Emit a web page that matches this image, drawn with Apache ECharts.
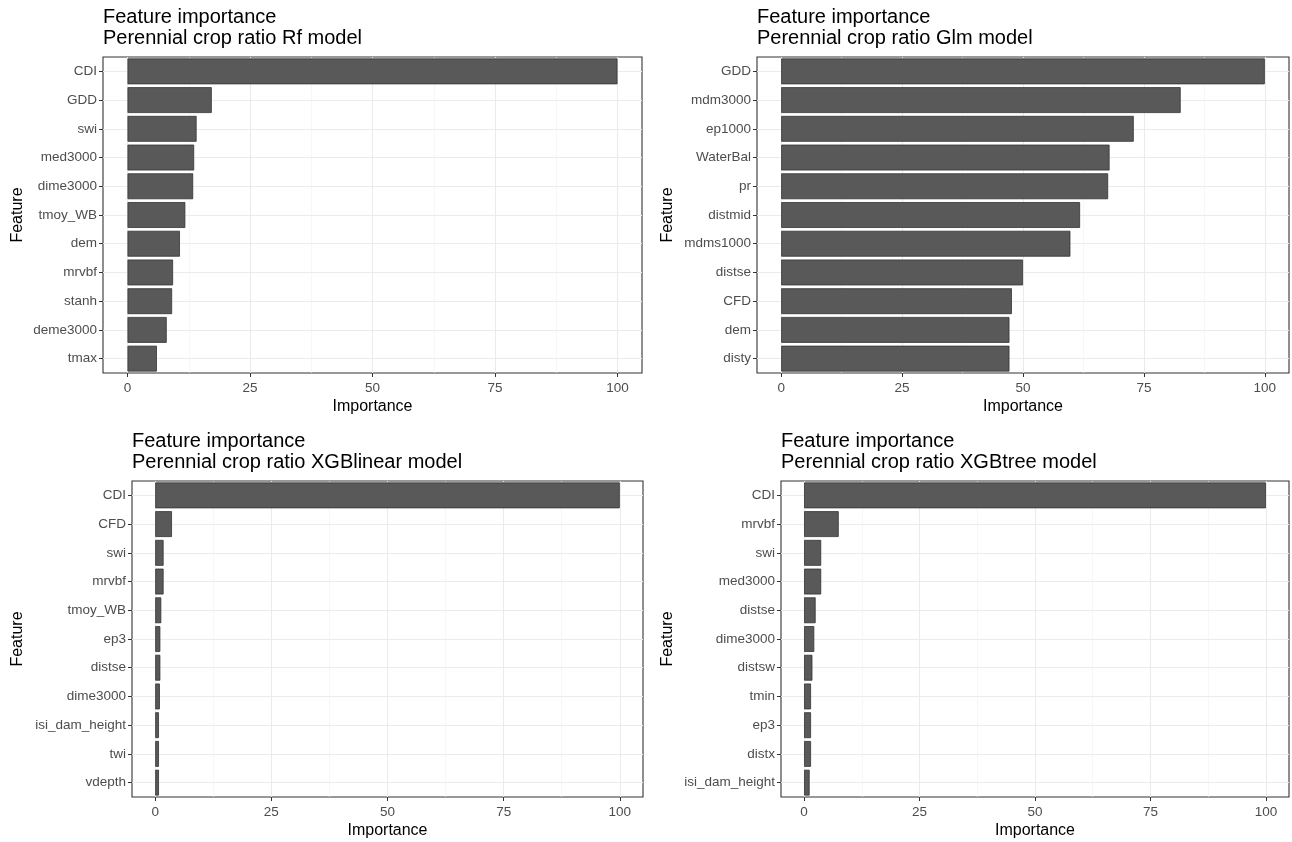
<!DOCTYPE html>
<html>
<head>
<meta charset="utf-8">
<script src="https://cdn.jsdelivr.net/npm/echarts@6/dist/echarts.min.js"></script>
<style>
html,body{margin:0;padding:0;background:#fff;}
#chart{width:1292px;height:842px;}
</style>
</head>
<body>
<div id="chart"></div>
<script>
// ---- data ----
const rfFeatures = ['CDI','GDD','swi','med3000','dime3000','tmoy_WB','dem','mrvbf','stanh','deme3000','tmax'];
const rfValues = [100,17.2,14.1,13.6,13.4,11.8,10.7,9.3,9.1,8.0,6.0];

const glmFeatures = ['GDD','mdm3000','ep1000','WaterBal','pr','distmid','mdms1000','distse','CFD','dem','disty'];
const glmValues = [100,82.6,72.9,67.9,67.6,61.8,59.8,50.0,47.7,47.2,47.2];

const xgblFeatures = ['CDI','CFD','swi','mrvbf','tmoy_WB','ep3','distse','dime3000','isi_dam_height','twi','vdepth'];
const xgblValues = [100,3.6,1.8,1.8,1.3,1.1,1.1,1.0,0.8,0.8,0.8];

const xgbtFeatures = ['CDI','mrvbf','swi','med3000','distse','dime3000','distsw','tmin','ep3','distx','isi_dam_height'];
const xgbtValues = [100,7.5,3.7,3.7,2.5,2.2,1.8,1.5,1.5,1.5,1.2];

const panelTitles = [
  'Feature importance\nPerennial crop ratio Rf model',
  'Feature importance\nPerennial crop ratio Glm model',
  'Feature importance\nPerennial crop ratio XGBlinear model',
  'Feature importance\nPerennial crop ratio XGBtree model'
];
const xTicks = [0,25,50,75,100];
const xMinorTicks = [12.5,37.5,62.5,87.5];
const xName = 'Importance';
const yName = 'Feature';

// ---- layout / style ----
const FONT = '"Liberation Sans", Arial, sans-serif';
const panels = [
  {feat: rfFeatures,  val: rfValues,  grid: {left:103, top:57,  width:539, height:316}, yGap:77,  titleTop:7},
  {feat: glmFeatures, val: glmValues, grid: {left:757, top:57,  width:532, height:316}, yGap:81,  titleTop:7},
  {feat: xgblFeatures,val: xgblValues,grid: {left:132, top:481, width:511, height:316}, yGap:106, titleTop:431},
  {feat: xgbtFeatures,val: xgbtValues,grid: {left:781, top:481, width:508, height:316}, yGap:105, titleTop:431}
];

const option = {
  backgroundColor: '#ffffff',
  animation: false,
  textStyle: {fontFamily: FONT},
  title: [], grid: [], xAxis: [], yAxis: [], series: []
};

panels.forEach((p, i) => {
  option.title.push({
    text: panelTitles[i],
    left: p.grid.left, top: p.titleTop, padding: 0,
    textStyle: {fontFamily: FONT, fontSize: 20, fontWeight: 'normal', color: '#000', lineHeight: 21}
  });
  option.grid.push(Object.assign({
    show: true, backgroundColor: '#fff', borderColor: '#333333', borderWidth: 1.1,
    containLabel: false
  }, p.grid));
  // main x axis (labels, ticks, major grid)
  option.xAxis.push({
    type: 'value', gridIndex: i, min: -5, max: 105, position: 'bottom',
    name: xName, nameLocation: 'middle', nameGap: 26,
    nameTextStyle: {fontFamily: FONT, fontSize: 16, color: '#000'},
    axisLine: {show: false, onZero: false},
    axisTick: {show: true, length: 4, customValues: xTicks, lineStyle: {color: '#333333', width: 1}},
    axisLabel: {show: true, customValues: xTicks, margin: 8, fontSize: 13.5, color: '#4d4d4d', fontFamily: FONT},
    splitLine: {show: true, lineStyle: {color: '#ebebeb', width: 1.1}}
  });
  // helper x axis for minor grid lines
  option.xAxis.push({
    type: 'value', gridIndex: i, min: -5, max: 105, position: 'top',
    axisLine: {show: false, onZero: false},
    axisTick: {show: false, customValues: xMinorTicks},
    axisLabel: {show: false},
    splitLine: {show: true, lineStyle: {color: '#f2f2f2', width: 0.6}}
  });
  option.yAxis.push({
    type: 'category', gridIndex: i, data: p.feat, inverse: true, position: 'left',
    name: yName, nameLocation: 'middle', nameGap: p.yGap, nameRotate: 90,
    nameTextStyle: {fontFamily: FONT, fontSize: 16, color: '#000'},
    axisLine: {show: false, onZero: false},
    axisTick: {show: true, alignWithLabel: true, length: 4, lineStyle: {color: '#333333', width: 1}},
    axisLabel: {margin: 6, fontSize: 13.5, color: '#4d4d4d', fontFamily: FONT},
    splitLine: {show: true, alignWithLabel: true, lineStyle: {color: '#ebebeb', width: 1.1}}
  });
  option.series.push({
    type: 'bar', xAxisIndex: i * 2, yAxisIndex: i, data: p.val,
    barCategoryGap: '10%',
    itemStyle: {color: '#595959', borderColor: '#333333', borderWidth: 0.8},
    emphasis: {disabled: true}
  });
});

const chart = echarts.init(document.getElementById('chart'), null, {renderer: 'canvas'});
chart.setOption(option);
</script>
</body>
</html>
